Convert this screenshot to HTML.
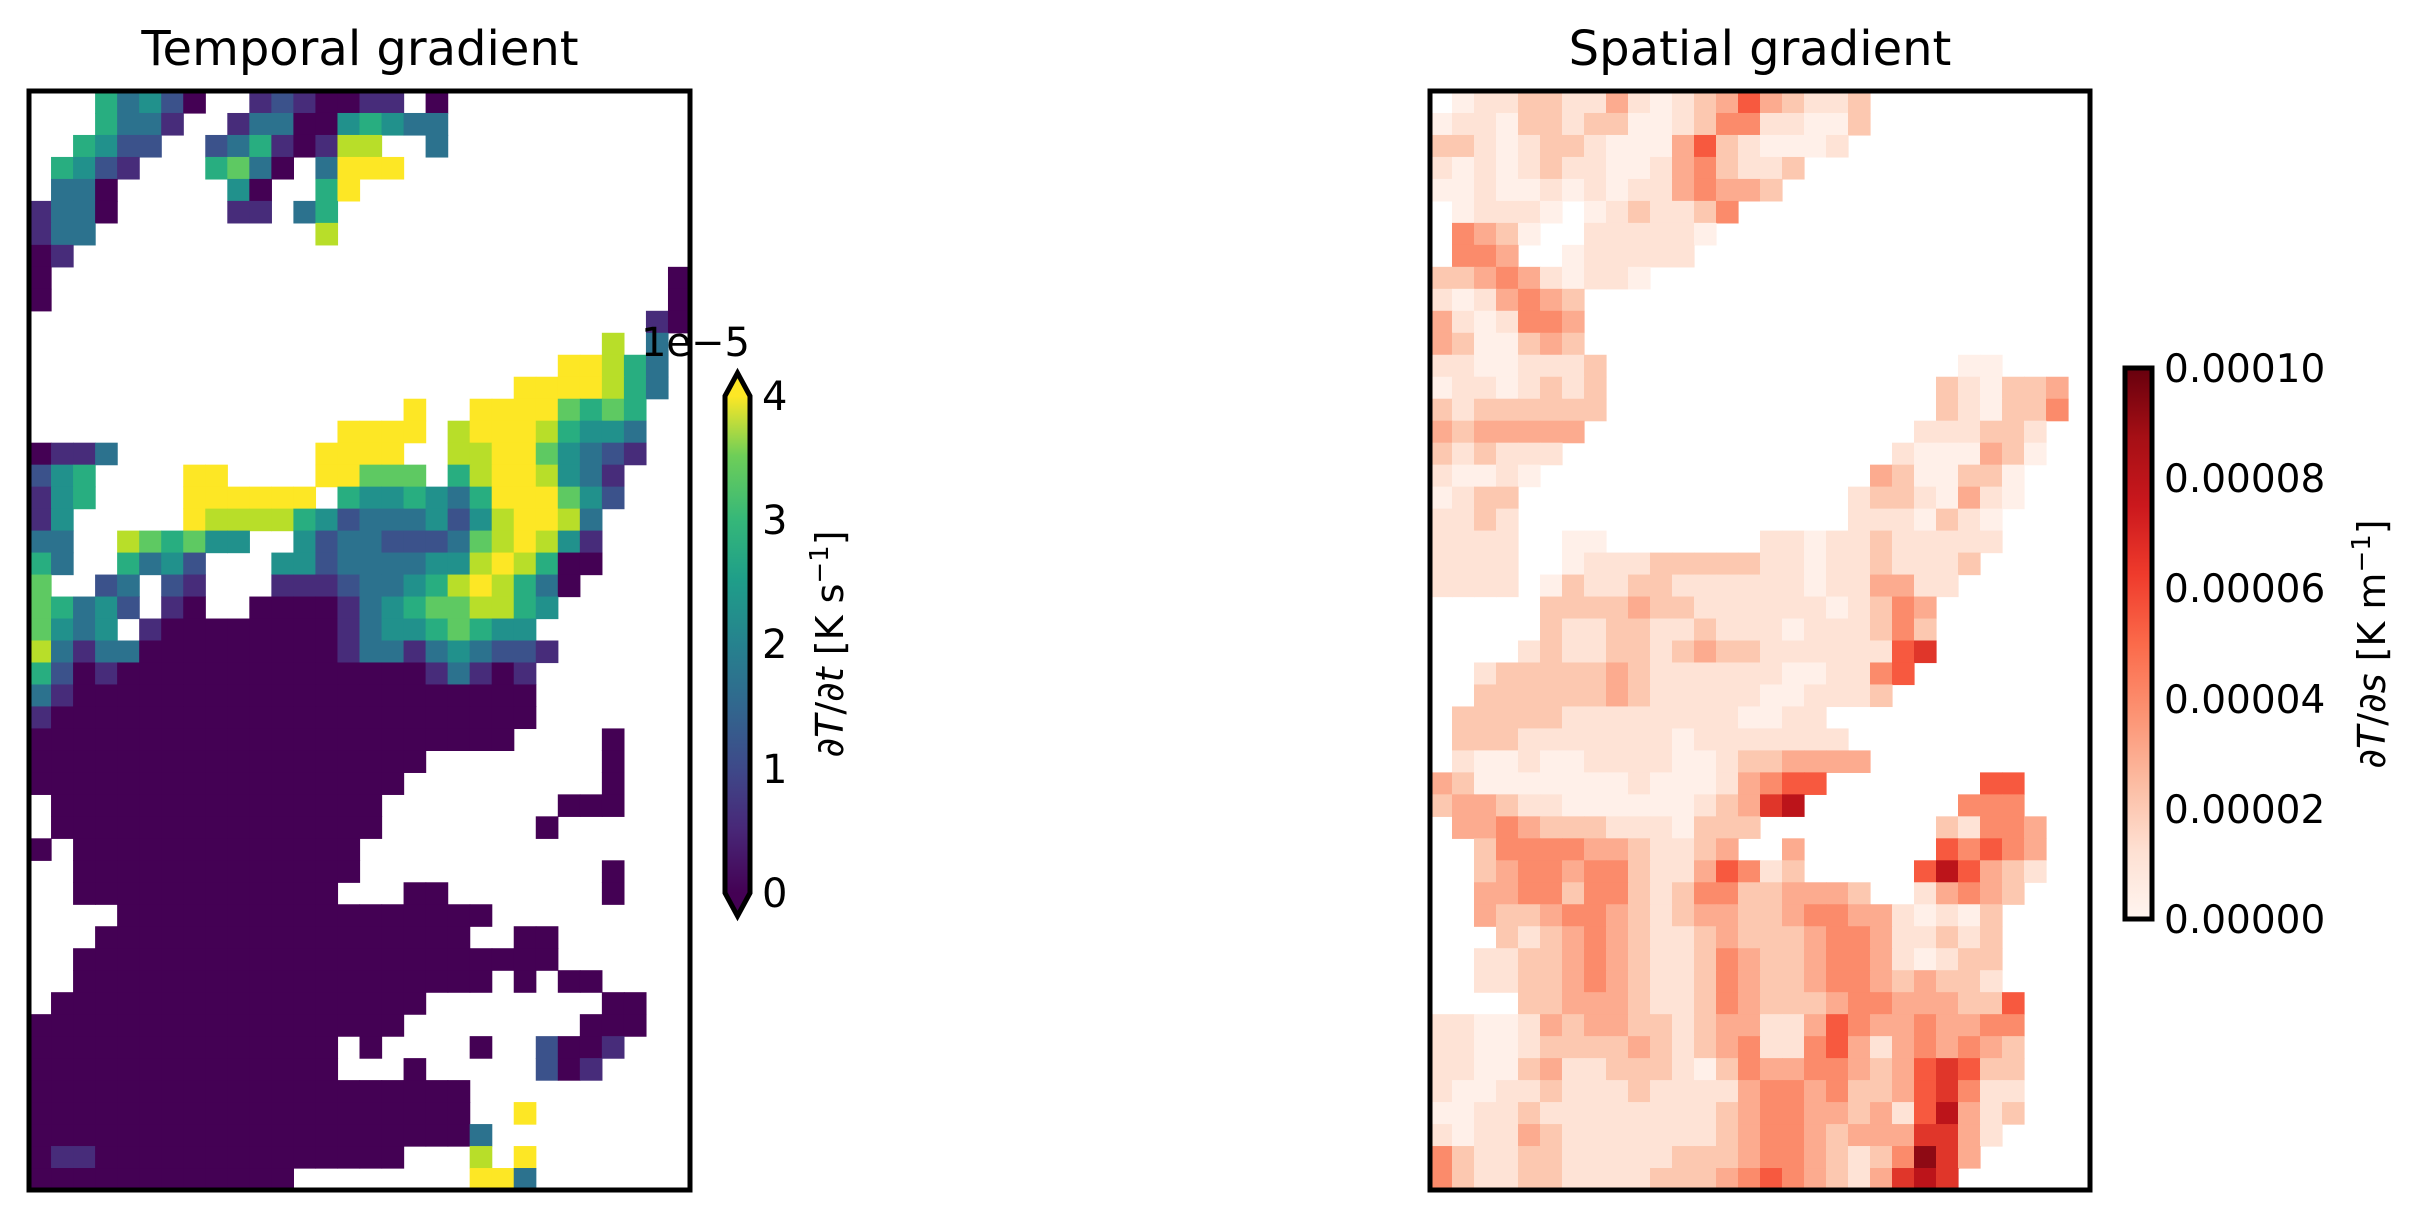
<!DOCTYPE html>
<html><head><meta charset="utf-8">
<style>
html,body{margin:0;padding:0;background:#fff;}
svg{display:block;}
text{font-family:"DejaVu Sans","Liberation Sans",sans-serif;fill:#000;}
</style></head>
<body>
<svg id="s" xmlns="http://www.w3.org/2000/svg" width="2427" height="1217" viewBox="0 0 2427 1217">
<defs>
<linearGradient id="vir" x1="0" y1="1" x2="0" y2="0">
<stop offset="0" stop-color="#440154"/><stop offset="0.13" stop-color="#482878"/>
<stop offset="0.25" stop-color="#3e4989"/><stop offset="0.38" stop-color="#31688e"/>
<stop offset="0.5" stop-color="#26828e"/><stop offset="0.63" stop-color="#1f9e89"/>
<stop offset="0.75" stop-color="#35b779"/><stop offset="0.88" stop-color="#6ece58"/>
<stop offset="1" stop-color="#fde725"/>
</linearGradient>
<linearGradient id="red" x1="0" y1="1" x2="0" y2="0">
<stop offset="0" stop-color="#fff5f0"/><stop offset="0.125" stop-color="#fee0d2"/>
<stop offset="0.25" stop-color="#fcbba1"/><stop offset="0.375" stop-color="#fc9272"/>
<stop offset="0.5" stop-color="#fb6a4a"/><stop offset="0.625" stop-color="#ef3b2c"/>
<stop offset="0.75" stop-color="#cb181d"/><stop offset="0.875" stop-color="#a50f15"/>
<stop offset="1" stop-color="#67000d"/>
</linearGradient>
</defs>
<g id="L"></g>
<g id="R"></g>
<rect x="29" y="91" width="661" height="1099" fill="none" stroke="#000" stroke-width="5"/>
<rect x="1430" y="91" width="660" height="1099" fill="none" stroke="#000" stroke-width="5"/>
<text x="360" y="65" font-size="48" text-anchor="middle">Temporal gradient</text>
<text x="1760" y="65" font-size="48" text-anchor="middle">Spatial gradient</text>

<!-- left colorbar -->
<rect x="725" y="396" width="25" height="497" fill="url(#vir)"/>
<polygon points="725,396 737.5,373 750,396" fill="#fde725"/>
<polygon points="725,893 737.5,916 750,893" fill="#440154"/>
<polygon points="725,396 737.5,373 750,396 750,893 737.5,916 725,893" fill="none" stroke="#000" stroke-width="5"/>
<g font-size="40">
<text x="762" y="410">4</text><text x="762" y="534">3</text><text x="762" y="658">2</text>
<text x="762" y="783">1</text><text x="762" y="907">0</text>
<text x="750" y="356" text-anchor="end">1e−5</text>
</g>
<text transform="translate(843,644) rotate(-90)" font-size="38" text-anchor="middle"><tspan font-style="italic">∂T</tspan>/<tspan font-style="italic">∂t</tspan> [K s<tspan font-size="26" dy="-15">−1</tspan><tspan dy="15">]</tspan></text>

<!-- right colorbar -->
<rect x="2125" y="368" width="27" height="551" fill="url(#red)" stroke="#000" stroke-width="5"/>
<g font-size="39">
<text x="2164" y="382">0.00010</text><text x="2164" y="492">0.00008</text>
<text x="2164" y="602">0.00006</text><text x="2164" y="713">0.00004</text>
<text x="2164" y="823">0.00002</text><text x="2164" y="933">0.00000</text>
</g>
<text transform="translate(2385,644) rotate(-90)" font-size="38" text-anchor="middle"><tspan font-style="italic">∂T</tspan>/<tspan font-style="italic">∂s</tspan> [K m<tspan font-size="26" dy="-15">−1</tspan><tspan dy="15">]</tspan></text>
</svg>
<script>
(function(){
var NS="http://www.w3.org/2000/svg";
function dec(s){return s.replace(/(.)\{(\d+)\}/g,function(m,c,n){return new Array(+n+1).join(c);});}
var Lrows=[
"...gt21d..p1pddpp.d.{11}",
"...gttp..pttdd2g2tt.{11}",
"..g211..1tgpdpyy..t.{11}",
".g21p...g3td.t444.{13}",
".ttd.....2d..g4.{15}",
"pttd.....pp.tg.{16}",
"ptt.{10}y.{16}",
"dp.{28}",
"d.{28}d",
"d.{28}d",
".{28}pd",
".{26}y.t.",
".{24}44ygt.",
".{22}4444ygt.",
".{17}4..44443g3g..",
".{14}4444.y444yg22t..",
"dppt.{9}4444..yy4432t1p..",
"12g.{4}44.{4}44333.gy44y2tp...",
"p2g.{4}444444.g22g2tg444321...",
"p2.{5}4yyyyg21ttt212y44yt....",
"tt..y3g322..21tt111t3y4y2p....",
"gt..gt21...221tttt22y4ygdd....",
"3..1t.1p...ppp1tt2gy4ygtd.....",
"3gt21.pd..ddddpt2g33yyg2......",
"32t2.pdd{7}pt22g3g22.......",
"ytpttd{9}pttpt2t11p......",
"g1dpd{14}ptpdp.......",
"tpd{21}.......",
"pd{22}.......",
"d{22}....d...",
"d{18}.{8}d...",
"d{17}.{9}d...",
".d{15}.{8}ddd...",
".d{15}.{7}d......",
"d.d{13}.{15}",
"..d{13}.{11}d...",
"..d{12}...dd.{7}d...",
"....d{17}.{9}",
"...d{17}..dd......",
"..d{22}......",
"..d{19}.d.dd....",
".d{17}.{8}dd..",
"d{17}.{8}ddd..",
"d{14}.d....d..1ddp...",
"d{14}...d.....1dp....",
"d{20}.{10}",
"d{20}..4.{7}",
"d{20}t.{9}",
"dppd{14}...y.4.{7}",
"d{12}.{8}44t.{7}"
];
var Rrows=[
".0112211310123532112.{10}",
"01102212200124411002.{10}",
"2210122100035210001.{11}",
"10101211001342112.{13}",
"0010010101134332.{14}",
".01110.0121124.{16}",
".4320..111110.{17}",
".443..011111.{18}",
"2234310110.{20}",
"1013432.{23}",
"3101443.{23}",
"3200232.{23}",
"11001112.{16}00....",
"01101212.{15}210223.",
"21222222.{15}210224.",
"3233333.{15}111221..",
"212111.{15}1000320..",
"10010.{15}3200220...",
"0122.{15}12210310...",
"1121.{15}1110210....",
"1111..00.{7}11011211111....",
"1111..0111222221101121112.....",
"1111.0211221111110113311......",
".{5}222232211111101243.{7}",
".{5}211221121110111242.{7}",
"....1211221232211111156.{7}",
"..12222232111111001145.{8}",
"..2222223211111001112.{9}",
".22222111111110011.{12}",
".222111111101111111.{11}",
".1001001111001223333.{10}",
"320000000100013455.{7}55...",
"23321100000012367.{7}444...",
".33432221110222.{8}21443..",
"..244443321123..3.{6}54543..",
"..234434421135412.{5}575321..",
"..334424421244223332..13432...",
"..322344321233223443310102....",
"...21234321123222344311212....",
"..112234321124322344310122....",
"..112234321124322344323221....",
"....22333211243222344333225...",
"110013233221233113543343344...",
"110012222321234114531343432...",
"110023112221024334432356522...",
"100112111211113443422356411...",
"001121111111123443323157312...",
"10113211111112344323336631....",
"4211221111122234432124863.{5}",
"421122111122234543213676.{6}"
];
var LP={d:"#440154",p:"#472c7a","1":"#3b528b",t:"#2c728e","2":"#21918c",g:"#28ae80","3":"#5ec962",y:"#b8de29","4":"#fde725"};
var RP={"0":"#fff0e9","1":"#fee3d6","2":"#fcc8b0","3":"#fcab8f","4":"#fb8b6b","5":"#f7593f","6":"#e0362a","7":"#bc141a","8":"#8e0a14"};
function draw(id,rows,pal,x0,y0,w,h){
  var g=document.getElementById(id),cw=w/30,ch=h/50;
  for(var r=0;r<rows.length;r++){
    var s=dec(rows[r]);
    for(var c=0;c<30&&c<s.length;c++){
      var k=s.charAt(c);if(k==="."||!pal[k])continue;
      var e=document.createElementNS(NS,"rect");
      e.setAttribute("x",(x0+c*cw).toFixed(2));e.setAttribute("y",(y0+r*ch).toFixed(2));
      e.setAttribute("width",(cw+0.6).toFixed(2));e.setAttribute("height",(ch+0.6).toFixed(2));
      e.setAttribute("fill",pal[k]);g.appendChild(e);
    }
  }
}
draw("L",Lrows,LP,29,91,661,1099);
draw("R",Rrows,RP,1430,91,660,1099);
})();
</script>
</body></html>
